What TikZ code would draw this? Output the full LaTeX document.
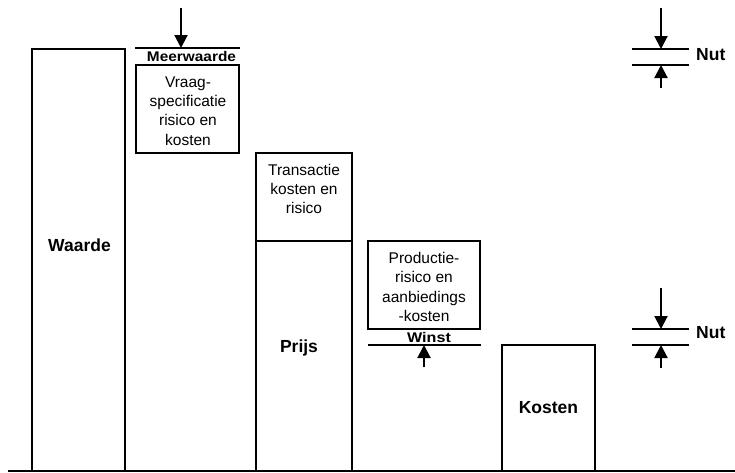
\documentclass[tikz,border=0pt]{standalone}
\usepackage{fontspec}
\setmainfont{Liberation Sans}
\usetikzlibrary{arrows.meta}
\begin{document}
\begin{tikzpicture}[x=1pt,y=-1pt,
  box/.style={draw,line width=1.8pt,inner sep=0pt},
  body/.style={font=\fontsize{15.5}{19.3}\selectfont,align=center,inner sep=0pt},
  big/.style={font=\fontsize{17.5}{20}\selectfont\bfseries,inner sep=0pt},
  small/.style={font=\fontsize{14}{15}\selectfont\bfseries,inner sep=0pt},
  bar/.style={line width=2.6pt},
  base/.style={line width=1.8pt},
  arr/.style={line width=2pt,-{Triangle[width=13pt,length=13pt]}}]
\useasboundingbox (0,0) rectangle (735,472);
% columns
\node[box,minimum width=93pt,minimum height=422pt] (waarde) at (78.5,260) {};
\node[box,minimum width=103pt,minimum height=88pt] (vraag) at (187.5,109) {};
\node[box,minimum width=96pt,minimum height=88pt] (trans) at (304,197) {};
\node[box,minimum width=96pt,minimum height=230pt] (prijs) at (304,356) {};
\node[box,minimum width=112pt,minimum height=88pt] (prod) at (424,285) {};
\node[box,minimum width=93pt,minimum height=126pt] (kosten) at (548.5,408) {};
% texts
\node[big] (tw) at (79.5,245) {Waarde};
\node[big] (tp) at (299,348) {Prijs};
\node[big] (tk) at (548.5,408) {Kosten};
\node[body] (tv) at (188,111) {Vraag-\\specificatie\\risico en\\kosten};
\node[body] (tt) at (304,189) {Transactie\\kosten en\\risico};
\node[body] (tpr) at (424,287) {Productie-\\risico en\\aanbiedings\\-kosten};
\node[small] (tmw) at (191.5,56) {\scalebox{1.1}[1]{Meerwaarde}};
\node[small] (twi) at (429,337) {\scalebox{1.15}[1]{Winst}};
\node[big,anchor=west] (nut1) at (696,55) {Nut};
\node[big,anchor=west] (nut2) at (696,333) {Nut};
% baseline
\coordinate (bl) at (8,471);
\coordinate (br) at (735,471);
\draw[base] (bl) -- (br);
% Meerwaarde
\coordinate (mwL) at (135,48);
\coordinate (mwR) at (240,48);
\draw[bar] (mwL) -- (mwR);
\coordinate (mwT) at (181,8);
\draw[arr] (mwT) -- (mwT |- mwL);
% Winst
\coordinate (wiL) at (368,345);
\coordinate (wiR) at (481,345);
\draw[bar] (wiL) -- (wiR);
\coordinate (wiB) at (424,367);
\draw[arr] (wiB) -- (wiB |- wiL);
% Nut top
\coordinate (n1a) at (632,49); \coordinate (n1b) at (689,49);
\coordinate (n1c) at (632,65); \coordinate (n1d) at (689,65);
\draw[bar] (n1a) -- (n1b);
\draw[bar] (n1c) -- (n1d);
\coordinate (n1T) at (661,8); \coordinate (n1B) at (661,88);
\draw[arr] (n1T) -- (n1T |- n1a);
\draw[arr] (n1B) -- (n1B |- n1c);
% Nut bottom
\coordinate (n2a) at (632,329); \coordinate (n2b) at (689,329);
\coordinate (n2c) at (632,345); \coordinate (n2d) at (689,345);
\draw[bar] (n2a) -- (n2b);
\draw[bar] (n2c) -- (n2d);
\coordinate (n2T) at (661,288); \coordinate (n2B) at (661,368);
\draw[arr] (n2T) -- (n2T |- n2a);
\draw[arr] (n2B) -- (n2B |- n2c);
\end{tikzpicture}
\end{document}
